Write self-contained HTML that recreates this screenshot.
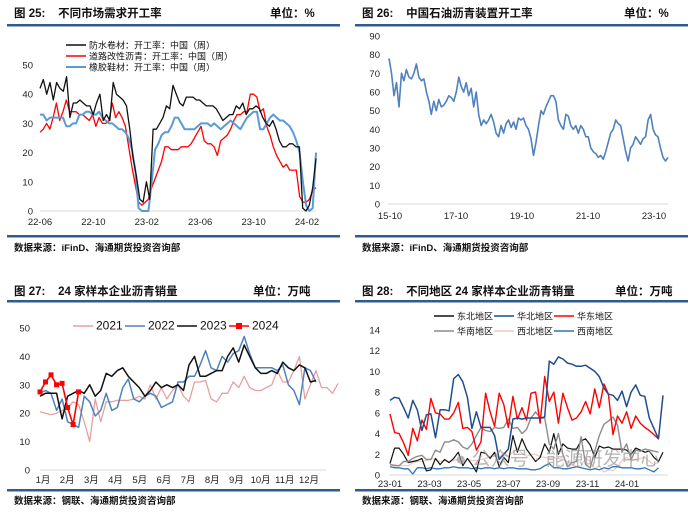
<!DOCTYPE html>
<html><head><meta charset="utf-8">
<style>
html,body{margin:0;padding:0;background:#fff;}
svg{display:block;font-family:"Liberation Sans","Noto Sans CJK SC",sans-serif;}
.t{font-size:11.5px;font-weight:bold;fill:#111;font-family:"Liberation Sans","Noto Sans CJK SC",sans-serif;}
.src{font-size:9.5px;font-weight:bold;fill:#111;}
.tk{font-size:9.5px;fill:#222;}
.lg{font-size:9px;fill:#111;}
</style></head>
<body>
<svg id="s" width="700" height="516" viewBox="0 0 700 516">
<g>
<text class="t" x="14" y="17">图 25:&#160;&#160;&#160;&#160;不同市场需求开工率</text>
<text class="t" x="270" y="17">单位：%</text>
<rect x="7" y="24" width="333" height="2.5" fill="#2f5b8e"/>
<rect x="7" y="235" width="333" height="2.5" fill="#2f5b8e"/>
<text class="src" x="14" y="251">数据来源：iFinD、海通期货投资咨询部</text>
</g>
<g>
<text class="t" x="362" y="17">图 26:&#160;&#160;&#160;&#160;中国石油沥青装置开工率</text>
<text class="t" x="624" y="17">单位：%</text>
<rect x="355" y="24" width="333" height="2.5" fill="#2f5b8e"/>
<rect x="355" y="235" width="333" height="2.5" fill="#2f5b8e"/>
<text class="src" x="362" y="251">数据来源：iFinD、海通期货投资咨询部</text>
</g>
<g>
<text class="t" x="14" y="295">图 27:&#160;&#160;&#160;&#160;24 家样本企业沥青销量</text>
<text class="t" x="253" y="295">单位：万吨</text>
<rect x="7" y="300" width="333" height="2.5" fill="#2f5b8e"/>
<rect x="7" y="489" width="333" height="2.5" fill="#2f5b8e"/>
<text class="src" x="14" y="504">数据来源：钢联、海通期货投资咨询部</text>
</g>
<g>
<text class="t" x="362" y="295">图 28:&#160;&#160;&#160;&#160;不同地区 24 家样本企业沥青销量</text>
<text class="t" x="615" y="295">单位：万吨</text>
<rect x="355" y="300" width="333" height="2.5" fill="#2f5b8e"/>
<rect x="355" y="489" width="333" height="2.5" fill="#2f5b8e"/>
<text class="src" x="362" y="504">数据来源：钢联、海通期货投资咨询部</text>
</g>
<g id="plots"></g>
<text x="455" y="465" font-size="19" fill="#9a9a9a" opacity="0.7">● 公众号 · 能源研发中心</text>
</svg>
<script>
// ---- chart 25 data ----
const c25Ticks = ["22-06","22-10","23-02","23-06","23-10","24-02"];
const c25YTicks = [0,10,20,30,40,50];
const c25Black = [42,45,40,44,38,44,42,41,46,32,37,37,38,37,36,36,33,37,40,31,33,31,44,40,39,38,36,28,18,12,4,3,10,4,28,28,30,32,36,35,43,40,37,36,39,39,39,38,38,37,36,36,36,35,33,31,32,33,33,36,35,37,33,35,35,36,35,32,30,29,31,28,24,22,22,23,23,22,22,1,0,2,8,18];
const c25Red = [27,28,30,28,32,37,31,34,38,34,34,34,33,33,32,31,33,29,32,30,30,31,37,32,34,32,29,22,15,9,3,2,3,4,8,11,14,17,22,22,21,21,21,22,22,22,23,25,27,29,24,23,23,22,19,24,25,26,28,31,33,33,34,34,40,40,39,34,35,29,26,22,19,17,15,16,14,14,14,5,3,3,4,7,8];
const c25Blue = [33,33,31,32,32,32,32,32,29,29,30,30,33,33,34,34,33,33,34,32,31,30,30,29,28,28,27,25,21,14,1,0,0,0,10,21,23,26,27,27,29,32,32,30,28,28,28,28,29,30,30,30,29,30,29,28,29,30,31,30,29,28,30,32,33,34,34,28,28,30,32,33,32,31,31,30,29,27,24,20,10,2,0,1,20];
// ---- chart 26 data ----
const c26Ticks = ["15-10","17-10","19-10","21-10","23-10"];
const c26YTicks = [0,10,20,30,40,50,60,70,80,90];
const c26Values = [78,70,58,65,52,70,66,72,68,67,70,75,68,66,67,60,55,48,55,50,56,52,53,55,58,57,55,60,68,63,60,65,58,62,52,60,48,42,45,43,45,48,44,38,36,42,38,43,45,41,44,40,46,45,46,42,40,35,26,33,42,50,48,52,55,58,58,55,45,42,40,48,47,42,40,42,38,42,40,36,36,30,28,27,25,26,24,28,33,38,40,45,43,42,35,28,23,30,32,36,34,32,35,36,45,48,40,37,36,30,25,23,25];
// ---- chart 27 data ----
const c27Months = ["1月","2月","3月","4月","5月","6月","7月","8月","9月","10月","11月","12月"];
const c27YTicks = [0,10,20,30,40,50];
const c27Y2021 = [20.5,20,19.5,20,21,22,24,23,17,10,25,17,24,24,24.5,24.5,24.5,25,26,25,30,25,29,25,28,30,26,24,31,31,31.5,25,24,27,27,31,29,33,29,28,28,29,30,35,31,31,35,40,25,30,35,29,29,27,30.5];
const c27Y2022 = [27,28,27,21,25,17,16,15,26,24,19,21,27,21,22,29,32,25,24,26,27,26,22,23,24,31,31,33,33,37,42,36,35,40,38,41,42,47,41,36,36,36,36,35,37,30,28,23,36,35,31];
const c27Y2023 = [26,27,27,27,18,26,27,28,27,30,26,28,34,33,35,36,33,31,29,26,28,31,29,30,29,30,28,37,40,33,33,34,35,35,40,43,38,44,40,36,34,34,35,34,38,36,35,37,36,31,31.5];
const c27Y2024 = [27.5,31,33.5,30,30.5,22,16,27.5];
// ---- chart 28 data ----
const c28Ticks = ["23-01","23-03","23-05","23-07","23-09","23-11","24-01"];
const c28YTicks = [0,2,4,6,8,10,12,14];
const c28North = [7.2,7.5,7.4,6.5,5.5,7.2,6.3,4.3,5.8,5.9,3.6,6.3,6.3,6.2,9.3,9.7,9,7.5,4.5,6.1,4.6,4.6,4.6,3.8,1.5,2.0,2.5,5.4,5.5,5.4,5.5,5.5,5.5,5.5,5.6,11,10.7,11.4,11.2,10.8,10.7,10.5,10.5,10.6,10.3,10,9.5,8.4,7.8,7.7,7.2,8.1,6.6,8.0,8.7,7.7,7.6,5.5,4.5,3.5,7.7];
const c28East = [5.9,4.1,4.0,3.1,1.9,4.5,3.3,5.3,4.4,7.4,6.0,5.9,5.4,5.4,6.0,7.0,4.5,4.6,4.2,2.4,3.2,7.9,6.1,4.7,7.9,6.8,4.6,7.6,5.4,6.5,5.3,7.9,8.0,5.0,9.5,7.1,8.0,5.0,7.9,6.5,5.3,5.5,6.1,7.1,5.9,8.3,6.5,8.8,7.8,3.9,5.7,5.0,6.1,4.5,5.7,5.0,4.6,4.3,3.9,3.5];
const c28South = [1.0,0.9,0.9,1.3,1.3,1.6,1.8,1.9,1.5,1.5,2.4,2.2,3.2,3.2,3.4,3.2,2.7,2.5,3.0,3.8,4.6,4.3,4.2,4.6,4.5,4.6,5.4,4.5,4.6,4.0,4.4,5.5,6.1,5.5,5.5,3.0,2.5,4.0,2.0,0.8,1.2,1.3,3.7,1.0,0.7,2.3,3.8,4.9,5.2,5.6,4.8,2.2,3.0,1.5,2.4,2.3,2.5,2.4,2.3,2.2];
const c28NorthEast = [1.1,2.6,2.6,2.0,1.2,1.3,1.4,1.6,0.4,0.5,1.6,1.0,1.5,1.2,1.6,2.2,0.9,1.6,1.0,0.3,2.2,2.1,1.6,2.2,0.8,1.7,1.2,3.8,2.2,3.5,2.5,1.9,1.3,1.7,3.0,2.2,4.0,2.0,3.0,2.6,2.5,2.5,3.3,3.5,2.9,1.7,2.8,2.6,2.7,2.5,2.5,2.5,2.4,2.0,2.6,2.4,2.2,2.3,1.7,1.3,2.2];
const c28NorthWest = [1.0,1.0,0.9,0.9,0.9,1.2,1.3,1.3,1.4,1.6,1.5,1.3,1.4,1.3,1.4,1.5,1.2,1.5,1.4,1.4,1.5,1.6,1.8,2.0,1.6,2.2,1.8,2.2,2.6,2.1,1.8,2.0,2.0,1.8,1.7,1.6,1.7,1.6,1.5,1.3,1.0,0.8,0.9,1.6,1.3,0.6,0.9,0.3,0.5,0.4,0.8,1.4,1.7,1.4,1.5,1.6,1.7,1.3,1.0,1.2];
const c28SouthWest = [0.8,0.7,0.7,0.6,0.6,0.1,0.7,0.7,0.6,0.7,0.6,0.6,0.7,0.7,0.8,0.7,0.7,0.7,0.6,0.7,0.6,0.7,0.7,0.6,0.7,0.6,0.7,0.7,0.6,0.6,0.6,0.5,0.5,0.6,0.9,1.1,0.7,0.7,0.6,0.6,0.7,0.8,0.7,0.6,0.5,0.6,0.5,0.7,0.6,0.8,0.8,0.7,0.7,0.7,0.6,0.6,0.7,0.5,0.3,0.7];

const NS = "http://www.w3.org/2000/svg";
const root = document.getElementById("plots");
function mk(tag, attrs, parent){
  const e = document.createElementNS(NS, tag);
  for (const k in attrs) e.setAttribute(k, attrs[k]);
  (parent||root).appendChild(e);
  return e;
}
function scale(d0,d1,r0,r1){ return v => r0 + (v-d0)/(d1-d0)*(r1-r0); }
function yAxis(g, ticks, ys, x, name){
  ticks.forEach(t=>{
    const e = mk("text",{x:x,y:ys(t)+3.5,"text-anchor":"end",class:"tk"},g);
    e.textContent = t;
    
    
  });
}
function axisLine(g,x0,x1,y,name){
  const l = mk("line",{x1:x0,x2:x1,y1:y,y2:y,stroke:"#d9d9d9","stroke-width":1},g);
  
  
}
function xLabels(g, labels, xs, y, name, anchor){
  labels.forEach((t,i)=>{
    const e = mk("text",{x:xs(i),y:y,"text-anchor":anchor||"middle",class:"tk"},g);
    e.textContent = t;
    
    
  });
}
function line(g, vals, xf, ys, color, w, name){
  const d = vals.map((v,i)=>(i?"L":"M")+xf(i).toFixed(1)+","+ys(v).toFixed(1)).join("");
  const p = mk("path",{d:d,fill:"none",stroke:color,"stroke-width":w,"stroke-linejoin":"round"},g);
  
  
  return p;
}
function legend(g,x,y,color,label,name,w,marker){
  const l = mk("line",{x1:x,x2:x+20,y1:y,y2:y,stroke:color,"stroke-width":w||1.5},g);
  
  
  if(marker){ mk("rect",{x:x+7,y:y-3,width:6,height:6,fill:color},g); }
  const t = mk("text",{x:x+23,y:y+3.5,class:"lg"},g);
  t.textContent = label;
  
  
}

(function(){
  const g = mk("g",{});
  
  
  const X0=40, X1=316, ys = scale(0,50,211,65);
  yAxis(g,c25YTicks,ys,33,"chart25");
  axisLine(g,X0,X1,211,"chart25");
  xLabels(g,c25Ticks,scale(0,c25Ticks.length-1,40,307),225,"chart25");
  const xf = n => (i => X0 + i/(n-1)*(X1-X0));
  line(g,c25Red,xf(c25Red.length),ys,"#ff0000",1.3,"series-road-asphalt");
  line(g,c25Blue,xf(c25Blue.length),ys,"#5b9bd5",2,"series-rubber-asphalt");
  line(g,c25Black,xf(c25Black.length),ys,"#111",1.3,"series-waterproof");
  legend(g,66,45,"#111","防水卷材：开工率：中国（周）","legend-waterproof",1.5);
  legend(g,66,56,"#ff0000","道路改性沥青：开工率：中国（周）","legend-road",1.5);
  legend(g,66,67,"#5b9bd5","橡胶鞋材：开工率：中国（周）","legend-rubber",2);
})();

(function(){
  const g = mk("g",{});
  
  
  const ys = scale(0,90,204,36);
  yAxis(g,c26YTicks,ys,380,"chart26");
  axisLine(g,388,668,204,"chart26");
  xLabels(g,c26Ticks,scale(0,4,390,654),219,"chart26");
  const n=c26Values.length;
  line(g,c26Values,i=>389+i/(n-1)*(668-389),ys,"#4f81bd",1.6,"series-petrochina-utilization");
})();

(function(){
  const g = mk("g",{});
  
  
  const ys = scale(0,50,470,328);
  yAxis(g,c27YTicks,ys,30,"chart27");
  axisLine(g,40,326,470,"chart27");
  xLabels(g,c27Months,scale(0,11,43,309),483,"chart27");
  const xw = i => 40 + i/52*287;
  line(g,c27Y2021,xw,ys,"#e6a0a0",1.3,"series-2021");
  line(g,c27Y2022,xw,ys,"#4f81bd",1.5,"series-2022");
  line(g,c27Y2023,xw,ys,"#111",1.5,"series-2023");
  line(g,c27Y2024,xw,ys,"#ff0000",1.6,"series-2024");
  c27Y2024.forEach((v,i)=>{
    const r = mk("rect",{x:xw(i)-2.5,y:ys(v)-2.5,width:5,height:5,fill:"#ff0000"},g);
    
    
  });
  legend(g,73,326,"#e6a0a0","2021","legend-2021",1.5);
  legend(g,125,326,"#4f81bd","2022","legend-2022",1.5);
  legend(g,177,326,"#111","2023","legend-2023",1.5);
  legend(g,229,326,"#ff0000","2024","legend-2024",1.5,true);
  g.querySelectorAll(".lg").forEach(t=>t.setAttribute("style","font-size:12px"));
})();

(function(){
  const g = mk("g",{});
  
  
  const ys = scale(0,14,475,330);
  yAxis(g,c28YTicks,ys,380,"chart28");
  axisLine(g,389,668,475,"chart28");
  xLabels(g,c28Ticks,scale(0,6,390,627),487,"chart28");
  const xw = i => 390 + i*4.55;
  line(g,c28NorthWest,xw,ys,"#f4c7c3",1.2,"series-northwest");
  line(g,c28SouthWest,xw,ys,"#2e75b6",1.3,"series-southwest");
  line(g,c28NorthEast,xw,ys,"#111",1.2,"series-northeast");
  line(g,c28South,xw,ys,"#8c8c8c",1.4,"series-south");
  line(g,c28East,xw,ys,"#ff0000",1.4,"series-east");
  line(g,c28North,xw,ys,"#1f4e8c",1.5,"series-north");
  legend(g,434,316,"#111","东北地区","legend-northeast");
  legend(g,494,316,"#1f4e8c","华北地区","legend-north");
  legend(g,554,316,"#ff0000","华东地区","legend-east");
  legend(g,434,331,"#8c8c8c","华南地区","legend-south");
  legend(g,494,331,"#f4c7c3","西北地区","legend-northwest");
  legend(g,554,331,"#2e75b6","西南地区","legend-southwest");
})();
</script>
</body></html>
